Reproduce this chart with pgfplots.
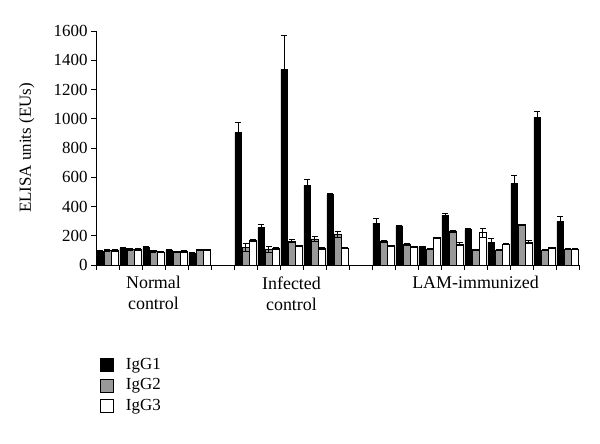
\documentclass[border=0pt]{standalone}
\usepackage{fontspec}
\setmainfont{Liberation Serif}
\usepackage{pgfplots}
\usepackage{pgfplotstable}
\pgfplotsset{compat=1.18}

\pgfplotstableread{
x y e
0 92 5
1 115 5
2 120 8
3 101 5
4 80 5
6 905 68
7 255 23
8 1340 228
9 542 46
10 483 7
12 287 32
13 267 5
14 125 5
15 340 13
16 244 5
17 157 23
18 556 57
19 1007 41
20 299 36
}\gA

\pgfplotstableread{
x y e
0 101 5
1 108 5
2 92 5
3 88 5
4 105 5
6 118 28
7 105 22
8 162 10
9 178 16
10 210 18
12 162 5
13 141 5
14 109 5
15 230 5
16 105 5
17 103 5
18 276 5
19 103 5
20 109 5
}\gB

\pgfplotstableread{
x y e
0 101 5
1 108 5
2 88 5
3 92 5
4 105 5
6 166 6
7 114 5
8 132 5
9 114 5
10 116 3
12 132 5
13 125 5
14 187 5
15 144 8
16 221 30
17 144 5
18 157 8
19 118 5
20 109 5
}\gC

\pgfplotsset{
  mybar/.style={ybar, bar width=0.3, bar shift=0pt, draw=black, line width=0.8pt,
    legend image code/.code={\draw[##1, line width=0.8pt] (0bp,-6.5bp) rectangle (13bp,6.5bp);},
    /pgfplots/error bars/y dir=both, /pgfplots/error bars/y explicit,
    /pgfplots/error bars/error bar style={line width=0.8pt, black},
    /pgfplots/error bars/error mark options={rotate=90, mark size=3bp, line width=0.8pt, black}},
}

\begin{document}
\begin{tikzpicture}
\path[use as bounding box] (-96bp,-179bp) rectangle (504bp,265bp);
\begin{axis}[
  at={(0,0)}, anchor=south west,
  scale only axis, width=483bp, height=234bp,
  xmin=-0.5, xmax=20.5, ymin=0, ymax=1600,
  axis lines=left, axis line style={-, line width=0.8pt, black},
  tick align=outside, major tick length=5bp,
  tick style={black, line width=0.8pt},
  xtick={-0.5,0.5,...,20.5}, xticklabels={},
  extra x ticks={2,8,16},
  extra x tick labels={Normal\\control, Infected\\control, LAM-immunized},
  extra x tick style={major tick length=0pt,
     xticklabel style={align=center, yshift=-8bp, font=\fontsize{18}{21}\selectfont}},
  ytick={0,200,...,1600},
  yticklabel style={font=\fontsize{17}{20}\selectfont},
  /pgf/number format/assume math mode=true,
  /pgf/number format/1000 sep={},
  ylabel={ELISA units (EUs)},
  ylabel style={at={(axis description cs:-0.143,0.5)}, anchor=center, font=\fontsize{17}{20}\selectfont},
  legend style={at={(axis description cs:0.002,-0.385)}, anchor=north west, draw=none,
     font=\fontsize{17}{20}\selectfont, row sep=4.5bp,
     nodes={inner sep=0pt, text height=12bp, text depth=4bp},
     /tikz/every odd column/.append style={column sep=12bp}},
  legend cell align=left,
]
\addplot[fill=black, mybar] table[x expr=\thisrow{x}-0.31, y=y, y error=e]{\gA};
\addlegendentry{IgG1}
\addplot[fill=black!40, mybar] table[x=x, y=y, y error=e]{\gB};
\addlegendentry{IgG2}
\addplot[fill=white, mybar] table[x expr=\thisrow{x}+0.31, y=y, y error=e]{\gC};
\addlegendentry{IgG3}
\end{axis}
\end{tikzpicture}
\end{document}
